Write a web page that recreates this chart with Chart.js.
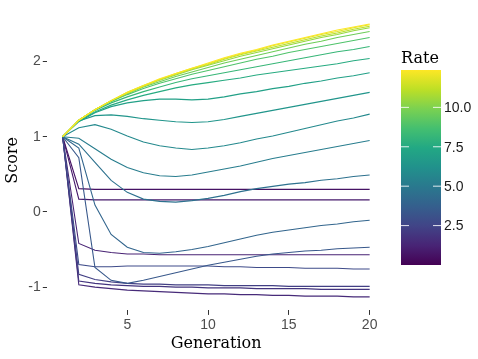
<!DOCTYPE html>
<html>
<head>
<meta charset="utf-8">
<script src="https://cdn.jsdelivr.net/npm/chart.js@4.4.1/dist/chart.umd.min.js"></script>
<style>
  html, body { margin: 0; padding: 0; background: #fff; }
  #wrap { width: 478px; height: 359px; }
</style>
</head>
<body>
<div id="wrap"><canvas id="chart" width="478" height="359"></canvas></div>
<script>
// Generations on the x axis
const generations = [1,2,3,4,5,6,7,8,9,10,11,12,13,14,15,16,17,18,19,20];

// Score per generation, one array per rate
const r12_4 = [1.00,1.22,1.36,1.48,1.59,1.68,1.77,1.84,1.91,1.98,2.05,2.11,2.16,2.22,2.27,2.32,2.37,2.42,2.46,2.50];
const r11_8 = [1.00,1.22,1.36,1.48,1.58,1.67,1.76,1.84,1.91,1.97,2.04,2.10,2.15,2.21,2.26,2.31,2.36,2.40,2.45,2.49];
const r11_1 = [1.00,1.22,1.36,1.48,1.59,1.68,1.76,1.83,1.90,1.96,2.03,2.09,2.14,2.19,2.24,2.29,2.34,2.38,2.43,2.47];
const r10_4 = [1.00,1.22,1.36,1.48,1.58,1.67,1.75,1.82,1.89,1.95,2.01,2.07,2.12,2.17,2.22,2.27,2.32,2.36,2.41,2.45];
const r9_6  = [1.00,1.22,1.36,1.47,1.57,1.66,1.73,1.80,1.86,1.92,1.98,2.03,2.08,2.13,2.18,2.23,2.27,2.32,2.36,2.40];
const r8_9  = [1.00,1.22,1.36,1.47,1.56,1.64,1.71,1.77,1.83,1.88,1.93,1.98,2.03,2.07,2.12,2.16,2.20,2.24,2.28,2.32];
const r8_2  = [1.00,1.21,1.35,1.45,1.53,1.60,1.66,1.72,1.77,1.81,1.85,1.89,1.93,1.97,2.01,2.05,2.09,2.13,2.16,2.20];
const r7_6  = [1.00,1.21,1.33,1.42,1.49,1.55,1.60,1.65,1.69,1.72,1.75,1.78,1.82,1.85,1.88,1.91,1.94,1.97,2.01,2.04];
const r7_0  = [1.00,1.20,1.32,1.40,1.45,1.48,1.50,1.50,1.49,1.50,1.53,1.57,1.60,1.64,1.67,1.71,1.74,1.78,1.81,1.85];
const r6_4  = [1.00,1.21,1.28,1.29,1.27,1.24,1.22,1.20,1.19,1.20,1.23,1.27,1.31,1.35,1.39,1.43,1.47,1.51,1.55,1.59];
const r5_8  = [1.00,1.12,1.16,1.10,1.01,0.93,0.88,0.85,0.83,0.85,0.88,0.92,0.97,1.01,1.06,1.11,1.16,1.21,1.25,1.30];
const r5_2  = [1.00,0.98,0.84,0.70,0.59,0.52,0.48,0.47,0.49,0.53,0.57,0.61,0.66,0.71,0.75,0.79,0.83,0.87,0.91,0.95];
const r4_6  = [1.00,0.90,0.66,0.42,0.26,0.17,0.14,0.13,0.15,0.18,0.22,0.27,0.31,0.34,0.37,0.39,0.42,0.44,0.47,0.49];
const r4_0  = [1.00,0.85,0.09,-0.30,-0.47,-0.54,-0.55,-0.53,-0.50,-0.46,-0.41,-0.36,-0.31,-0.27,-0.24,-0.21,-0.18,-0.16,-0.13,-0.11];
const r3_4  = [1.00,0.72,-0.74,-0.91,-0.95,-0.91,-0.86,-0.81,-0.76,-0.71,-0.67,-0.63,-0.59,-0.56,-0.54,-0.52,-0.51,-0.49,-0.48,-0.47];
const r2_8  = [1.00,-0.70,-0.73,-0.73,-0.72,-0.72,-0.72,-0.72,-0.72,-0.72,-0.73,-0.73,-0.74,-0.74,-0.74,-0.75,-0.75,-0.75,-0.76,-0.76];
const r2_3  = [1.00,-0.83,-0.90,-0.93,-0.95,-0.96,-0.96,-0.97,-0.97,-0.97,-0.98,-0.98,-0.98,-0.98,-0.99,-0.99,-0.99,-0.99,-0.99,-0.99];
const r1_9  = [1.00,-0.92,-0.95,-0.97,-0.98,-0.99,-0.99,-1.00,-1.00,-1.01,-1.01,-1.01,-1.02,-1.02,-1.02,-1.02,-1.03,-1.03,-1.03,-1.03];
const r1_5  = [1.00,-0.97,-1.00,-1.02,-1.04,-1.05,-1.06,-1.07,-1.08,-1.09,-1.09,-1.10,-1.10,-1.11,-1.11,-1.12,-1.12,-1.12,-1.13,-1.13];
const r1_2  = [1.00,-0.42,-0.51,-0.54,-0.56,-0.56,-0.57,-0.57,-0.57,-0.57,-0.57,-0.57,-0.57,-0.57,-0.57,-0.57,-0.57,-0.57,-0.57,-0.57];
const r0_9  = [1.00,0.17,0.16,0.16,0.16,0.16,0.16,0.16,0.16,0.16,0.16,0.16,0.16,0.16,0.16,0.16,0.16,0.16,0.16,0.16];
const r0_6  = [1.00,0.31,0.30,0.30,0.30,0.30,0.30,0.30,0.30,0.30,0.30,0.30,0.30,0.30,0.30,0.30,0.30,0.30,0.30,0.30];

// rate of each series (same order as the list below)
const rates = [12.37, 11.8, 11.1, 10.4, 9.6, 8.9, 8.2, 7.6, 7.0, 6.4, 5.8, 5.2, 4.6, 4.0, 3.4, 2.8, 2.3, 1.9, 1.5, 1.2, 0.9, 0.6];
const scoreSeries = [r12_4, r11_8, r11_1, r10_4, r9_6, r8_9, r8_2, r7_6, r7_0, r6_4, r5_8, r5_2, r4_6, r4_0, r3_4, r2_8, r2_3, r1_9, r1_5, r1_2, r0_9, r0_6];

// axis / legend ticks
const xTicks = [5, 10, 15, 20];
const yTicks = [-1, 0, 1, 2];
const rateTicks = [2.5, 5.0, 7.5, 10.0];
const rateMin = 0;
const rateMax = 12.37;

const viridisStops = ['#440154','#482475','#414487','#355f8d','#2a788e','#21918c','#22a884','#44bf70','#7ad151','#bddf26','#fde725'];

function hexToRgb(h) {
    return [parseInt(h.slice(1,3),16), parseInt(h.slice(3,5),16), parseInt(h.slice(5,7),16)];
}

function viridis(t) {
    t = Math.max(0, Math.min(1, t));
    const p = t * (viridisStops.length - 1);
    const i = Math.min(Math.floor(p), viridisStops.length - 2);
    const f = p - i;
    const a = hexToRgb(viridisStops[i]);
    const b = hexToRgb(viridisStops[i + 1]);
    const c = a.map((v, k) => Math.round(v + (b[k] - v) * f));
    return `rgb(${c[0]},${c[1]},${c[2]})`;
}

const datasets = scoreSeries.map((vals, idx) => ({
    label: 'Rate ' + rates[idx],
    data: vals.map((v, i) => ({ x: generations[i], y: v })),
    borderColor: viridis((rates[idx] - rateMin) / (rateMax - rateMin)),
    borderWidth: 1.1,
    pointRadius: 0,
    tension: 0,
    fill: false
}));

// Colour bar legend drawn next to the plot
const colorBar = {
    id: 'colorBar',
    afterDraw(chart) {
        const ctx = chart.ctx;
        const left = 401, width = 40, top = 70, bottom = 265;
        const grad = ctx.createLinearGradient(0, bottom, 0, top);
        viridisStops.forEach((c, i) => grad.addColorStop(i / (viridisStops.length - 1), c));
        ctx.save();
        ctx.fillStyle = grad;
        ctx.fillRect(left, top, width, bottom - top);

        ctx.font = '16px "DejaVu Serif"';
        ctx.fillStyle = '#000';
        ctx.textBaseline = 'alphabetic';
        ctx.textAlign = 'left';
        ctx.fillText('Rate', 401, 63);

        ctx.font = '14px "Liberation Sans", Arial, sans-serif';
        ctx.textBaseline = 'middle';
        rateTicks.forEach(v => {
            const y = bottom - (v - rateMin) / (rateMax - rateMin) * (bottom - top);
            ctx.strokeStyle = 'rgba(255,255,255,0.85)';
            ctx.lineWidth = 1;
            ctx.beginPath();
            ctx.moveTo(left, y); ctx.lineTo(left + 8, y);
            ctx.moveTo(left + width - 8, y); ctx.lineTo(left + width, y);
            ctx.stroke();
            ctx.fillStyle = '#1a1a1a';
            ctx.fillText(v.toFixed(1), left + width + 3, y + 1);
        });
        ctx.restore();
    }
};

new Chart(document.getElementById('chart'), {
    type: 'line',
    data: { datasets },
    options: {
        responsive: false,
        animation: false,
        devicePixelRatio: 1,
        layout: { padding: { left: 0, top: 5, right: 93, bottom: 0 } },
        plugins: { legend: { display: false }, tooltip: { enabled: false } },
        scales: {
            x: {
                type: 'linear',
                min: 0.05,
                max: 20.95,
                afterBuildTicks: (s) => { s.ticks = xTicks.map(v => ({ value: v })); },
                afterFit: (s) => { s.height = 48.6; },
                border: { display: false },
                grid: { color: 'rgba(0,0,0,0)', tickColor: '#333', tickLength: 4.5, drawTicks: true },
                ticks: { color: '#4d4d4d', padding: 2, font: { family: '"Liberation Sans", Arial, sans-serif', size: 14 } },
                title: { display: true, text: 'Generation', color: '#000', padding: { top: 0, bottom: 6 },
                         font: { family: '"DejaVu Serif"', size: 16 } }
            },
            y: {
                type: 'linear',
                min: -1.31,
                max: 2.68,
                afterBuildTicks: (s) => { s.ticks = yTicks.map(v => ({ value: v })); },
                afterFit: (s) => { s.width = 47.3; },
                border: { display: false },
                grid: { color: 'rgba(0,0,0,0)', tickColor: '#333', tickLength: 4.5, drawTicks: true },
                ticks: { color: '#4d4d4d', padding: 2, font: { family: '"Liberation Sans", Arial, sans-serif', size: 14 } },
                title: { display: true, text: 'Score', color: '#000', padding: { top: 3, bottom: 0 },
                         font: { family: '"DejaVu Serif"', size: 16 } }
            }
        }
    },
    plugins: [colorBar]
});
</script>
</body>
</html>
